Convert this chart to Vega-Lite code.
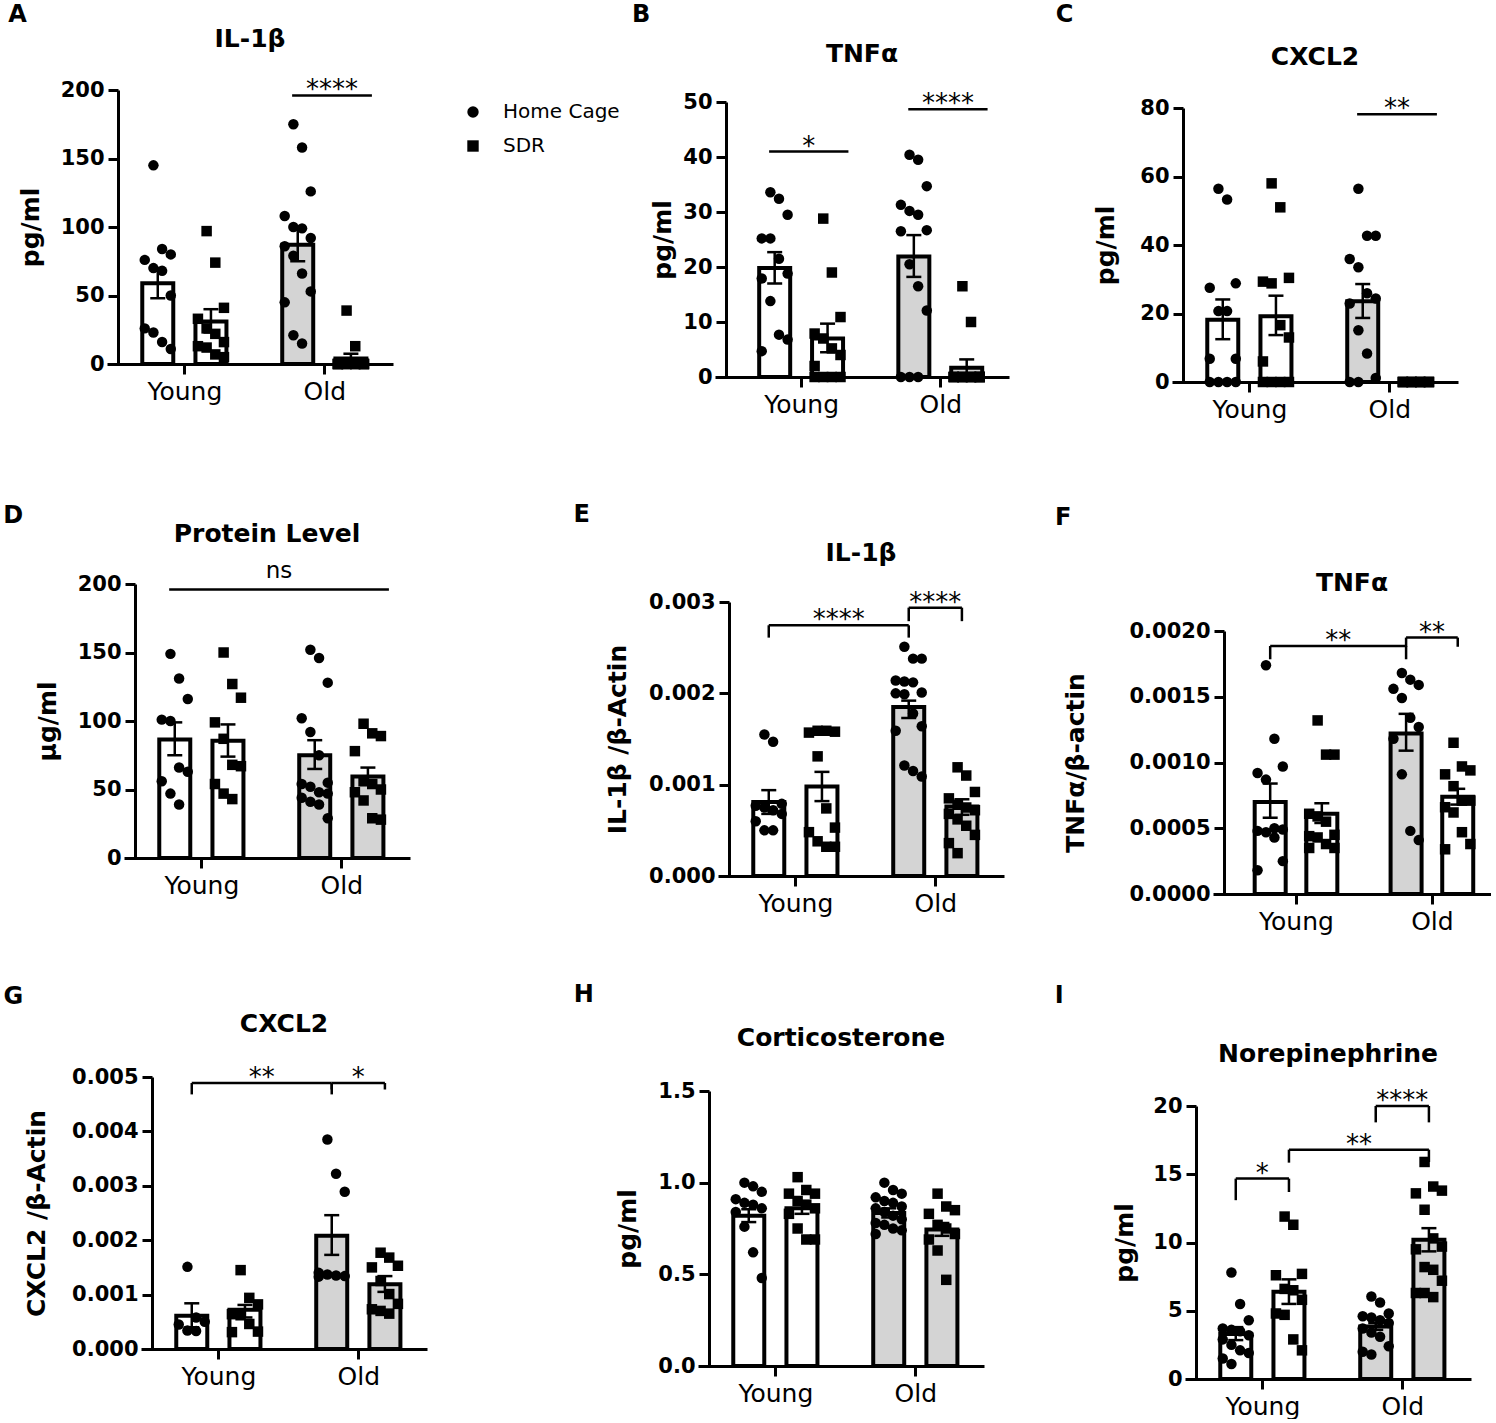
{
"$schema":"https://vega.github.io/schema/vega-lite/v6.json",
"background":"white",
"padding":{"left":2,"top":2,"right":0,"bottom":0},
"data":{"values":[
{"p":"A","k":"bar","a":"Young","t":"HC","mean":59,"lo":48,"hi":70},
{"p":"A","k":"bar","a":"Young","t":"SDR","mean":31,"lo":23,"hi":40},
{"p":"A","k":"bar","a":"Old","t":"HC","mean":87,"lo":75,"hi":100},
{"p":"A","k":"bar","a":"Old","t":"SDR","mean":4,"lo":1,"hi":7.5},
{"p":"B","k":"bar","a":"Young","t":"HC","mean":19.8,"lo":17,"hi":22.7},
{"p":"B","k":"bar","a":"Young","t":"SDR","mean":7,"lo":4.5,"hi":9.7},
{"p":"B","k":"bar","a":"Old","t":"HC","mean":21.9,"lo":18.2,"hi":25.8},
{"p":"B","k":"bar","a":"Old","t":"SDR","mean":1.7,"lo":0.2,"hi":3.2},
{"p":"C","k":"bar","a":"Young","t":"HC","mean":18.2,"lo":12.5,"hi":24.1},
{"p":"C","k":"bar","a":"Young","t":"SDR","mean":19.2,"lo":13.7,"hi":25.2},
{"p":"C","k":"bar","a":"Old","t":"HC","mean":23.6,"lo":18.7,"hi":28.6},
{"p":"C","k":"bar","a":"Old","t":"SDR","mean":0,"lo":0,"hi":0},
{"p":"D","k":"bar","a":"Young","t":"HC","mean":86.5,"lo":75,"hi":99},
{"p":"D","k":"bar","a":"Young","t":"SDR","mean":85.5,"lo":74,"hi":97.5},
{"p":"D","k":"bar","a":"Old","t":"HC","mean":75,"lo":65,"hi":86},
{"p":"D","k":"bar","a":"Old","t":"SDR","mean":59.5,"lo":53.5,"hi":66},
{"p":"E","k":"bar","a":"Young","t":"HC","mean":0.00081,"lo":0.00068,"hi":0.00094},
{"p":"E","k":"bar","a":"Young","t":"SDR","mean":0.00098,"lo":0.00082,"hi":0.00114},
{"p":"E","k":"bar","a":"Old","t":"HC","mean":0.00185,"lo":0.00173,"hi":0.00192},
{"p":"E","k":"bar","a":"Old","t":"SDR","mean":0.00076,"lo":0.00067,"hi":0.00084},
{"p":"F","k":"bar","a":"Young","t":"HC","mean":0.0007,"lo":0.00058,"hi":0.00084},
{"p":"F","k":"bar","a":"Young","t":"SDR","mean":0.00061,"lo":0.00054,"hi":0.00069},
{"p":"F","k":"bar","a":"Old","t":"HC","mean":0.00122,"lo":0.00109,"hi":0.00137},
{"p":"F","k":"bar","a":"Old","t":"SDR","mean":0.00074,"lo":0.00068,"hi":0.0008},
{"p":"G","k":"bar","a":"Young","t":"HC","mean":0.00061,"lo":0.0004,"hi":0.00084},
{"p":"G","k":"bar","a":"Young","t":"SDR","mean":0.00072,"lo":0.00058,"hi":0.00081},
{"p":"G","k":"bar","a":"Old","t":"HC","mean":0.00208,"lo":0.00173,"hi":0.00246},
{"p":"G","k":"bar","a":"Old","t":"SDR","mean":0.00119,"lo":0.00105,"hi":0.00134},
{"p":"H","k":"bar","a":"Young","t":"HC","mean":0.82,"lo":0.785,"hi":0.855},
{"p":"H","k":"bar","a":"Young","t":"SDR","mean":0.86,"lo":0.83,"hi":0.89},
{"p":"H","k":"bar","a":"Old","t":"HC","mean":0.835,"lo":0.81,"hi":0.86},
{"p":"H","k":"bar","a":"Old","t":"SDR","mean":0.745,"lo":0.71,"hi":0.78},
{"p":"I","k":"bar","a":"Young","t":"HC","mean":3.3,"lo":2.85,"hi":3.8},
{"p":"I","k":"bar","a":"Young","t":"SDR","mean":6.4,"lo":5.5,"hi":7.3},
{"p":"I","k":"bar","a":"Old","t":"HC","mean":3.85,"lo":3.6,"hi":4.1},
{"p":"I","k":"bar","a":"Old","t":"SDR","mean":10.2,"lo":9.35,"hi":11.05},

{"p":"A","k":"sig","a1":"Old","t1":"HC","a2":"Old","t2":"SDR","y":196,"label":"****"},
{"p":"B","k":"sig","a1":"Young","t1":"HC","a2":"Young","t2":"SDR","y":41,"label":"*"},
{"p":"B","k":"sig","a1":"Old","t1":"HC","a2":"Old","t2":"SDR","y":48.7,"label":"****"},
{"p":"C","k":"sig","a1":"Old","t1":"HC","a2":"Old","t2":"SDR","y":78.2,"label":"**"},
{"p":"D","k":"sig","a1":"Young","t1":"HC","a2":"Old","t2":"SDR","y":196,"label":"ns"},
{"p":"E","k":"sig","a1":"Young","t1":"HC","a2":"Old","t2":"HC","y":0.002745,"d1":0.00261,"d2":0.00261,"label":"****"},
{"p":"E","k":"sig","a1":"Old","t1":"HC","a2":"Old","t2":"SDR","y":0.002938,"d1":0.00279,"d2":0.00279,"label":"****"},
{"p":"F","k":"sig","a1":"Young","t1":"HC","a2":"Old","t2":"HC","y":0.001886,"d1":0.001785,"d2":0.001785,"label":"**"},
{"p":"F","k":"sig","a1":"Old","t1":"HC","a2":"Old","t2":"SDR","y":0.00195,"d1":0.00188,"d2":0.00188,"label":"**"},
{"p":"G","k":"sig","a1":"Young","t1":"HC","a2":"Old","t2":"HC","y":0.00489,"d1":0.00468,"d2":0.00468,"label":"**"},
{"p":"G","k":"sig","a1":"Old","t1":"HC","a2":"Old","t2":"SDR","y":0.00489,"d1":0.00477,"d2":0.00477,"label":"*"},
{"p":"I","k":"sig","a1":"Young","t1":"HC","a2":"Young","t2":"SDR","y":14.68,"d1":13.1,"d2":13.7,"label":"*"},
{"p":"I","k":"sig","a1":"Young","t1":"SDR","a2":"Old","t2":"SDR","y":16.8,"d1":15.85,"d2":15.9,"label":"**"},
{"p":"I","k":"sig","a1":"Old","t1":"HC","a2":"Old","t2":"SDR","y":20,"d1":18.8,"d2":18.8,"label":"****"},

{"p":"A","k":"pt","a":"Young","t":"HC","v":145},{"p":"A","k":"pt","a":"Young","t":"HC","v":84},{"p":"A","k":"pt","a":"Young","t":"HC","v":80},{"p":"A","k":"pt","a":"Young","t":"HC","v":76},{"p":"A","k":"pt","a":"Young","t":"HC","v":70},{"p":"A","k":"pt","a":"Young","t":"HC","v":68},{"p":"A","k":"pt","a":"Young","t":"HC","v":50},{"p":"A","k":"pt","a":"Young","t":"HC","v":26},{"p":"A","k":"pt","a":"Young","t":"HC","v":23},{"p":"A","k":"pt","a":"Young","t":"HC","v":16},{"p":"A","k":"pt","a":"Young","t":"HC","v":11},
{"p":"A","k":"pt","a":"Young","t":"SDR","v":97},{"p":"A","k":"pt","a":"Young","t":"SDR","v":74},{"p":"A","k":"pt","a":"Young","t":"SDR","v":41},{"p":"A","k":"pt","a":"Young","t":"SDR","v":33},{"p":"A","k":"pt","a":"Young","t":"SDR","v":26},{"p":"A","k":"pt","a":"Young","t":"SDR","v":22},{"p":"A","k":"pt","a":"Young","t":"SDR","v":16},{"p":"A","k":"pt","a":"Young","t":"SDR","v":13},{"p":"A","k":"pt","a":"Young","t":"SDR","v":12},{"p":"A","k":"pt","a":"Young","t":"SDR","v":7},{"p":"A","k":"pt","a":"Young","t":"SDR","v":5},
{"p":"A","k":"pt","a":"Old","t":"HC","v":175},{"p":"A","k":"pt","a":"Old","t":"HC","v":158},{"p":"A","k":"pt","a":"Old","t":"HC","v":126},{"p":"A","k":"pt","a":"Old","t":"HC","v":108},{"p":"A","k":"pt","a":"Old","t":"HC","v":100},{"p":"A","k":"pt","a":"Old","t":"HC","v":99},{"p":"A","k":"pt","a":"Old","t":"HC","v":92},{"p":"A","k":"pt","a":"Old","t":"HC","v":86},{"p":"A","k":"pt","a":"Old","t":"HC","v":79},{"p":"A","k":"pt","a":"Old","t":"HC","v":66},{"p":"A","k":"pt","a":"Old","t":"HC","v":53},{"p":"A","k":"pt","a":"Old","t":"HC","v":45},{"p":"A","k":"pt","a":"Old","t":"HC","v":21},{"p":"A","k":"pt","a":"Old","t":"HC","v":15},
{"p":"A","k":"pt","a":"Old","t":"SDR","v":39},{"p":"A","k":"pt","a":"Old","t":"SDR","v":13},{"p":"A","k":"pt","a":"Old","t":"SDR","v":0},{"p":"A","k":"pt","a":"Old","t":"SDR","v":0},{"p":"A","k":"pt","a":"Old","t":"SDR","v":0},{"p":"A","k":"pt","a":"Old","t":"SDR","v":0},{"p":"A","k":"pt","a":"Old","t":"SDR","v":0},{"p":"A","k":"pt","a":"Old","t":"SDR","v":0},{"p":"A","k":"pt","a":"Old","t":"SDR","v":0},{"p":"A","k":"pt","a":"Old","t":"SDR","v":0},{"p":"A","k":"pt","a":"Old","t":"SDR","v":0},{"p":"A","k":"pt","a":"Old","t":"SDR","v":0},

{"p":"B","k":"pt","a":"Young","t":"HC","v":33.6},{"p":"B","k":"pt","a":"Young","t":"HC","v":32.4},{"p":"B","k":"pt","a":"Young","t":"HC","v":29.5},{"p":"B","k":"pt","a":"Young","t":"HC","v":25.2},{"p":"B","k":"pt","a":"Young","t":"HC","v":25.2},{"p":"B","k":"pt","a":"Young","t":"HC","v":21.5},{"p":"B","k":"pt","a":"Young","t":"HC","v":18.8},{"p":"B","k":"pt","a":"Young","t":"HC","v":17.9},{"p":"B","k":"pt","a":"Young","t":"HC","v":13.8},{"p":"B","k":"pt","a":"Young","t":"HC","v":7.7},{"p":"B","k":"pt","a":"Young","t":"HC","v":6.8},{"p":"B","k":"pt","a":"Young","t":"HC","v":4.7},
{"p":"B","k":"pt","a":"Young","t":"SDR","v":28.8},{"p":"B","k":"pt","a":"Young","t":"SDR","v":19},{"p":"B","k":"pt","a":"Young","t":"SDR","v":10.9},{"p":"B","k":"pt","a":"Young","t":"SDR","v":7.9},{"p":"B","k":"pt","a":"Young","t":"SDR","v":7},{"p":"B","k":"pt","a":"Young","t":"SDR","v":5.2},{"p":"B","k":"pt","a":"Young","t":"SDR","v":4},{"p":"B","k":"pt","a":"Young","t":"SDR","v":2},{"p":"B","k":"pt","a":"Young","t":"SDR","v":0},{"p":"B","k":"pt","a":"Young","t":"SDR","v":0},{"p":"B","k":"pt","a":"Young","t":"SDR","v":0},{"p":"B","k":"pt","a":"Young","t":"SDR","v":0},
{"p":"B","k":"pt","a":"Old","t":"HC","v":40.4},{"p":"B","k":"pt","a":"Old","t":"HC","v":39.5},{"p":"B","k":"pt","a":"Old","t":"HC","v":34.7},{"p":"B","k":"pt","a":"Old","t":"HC","v":31.3},{"p":"B","k":"pt","a":"Old","t":"HC","v":30.2},{"p":"B","k":"pt","a":"Old","t":"HC","v":29.5},{"p":"B","k":"pt","a":"Old","t":"HC","v":26.7},{"p":"B","k":"pt","a":"Old","t":"HC","v":26.5},{"p":"B","k":"pt","a":"Old","t":"HC","v":20.5},{"p":"B","k":"pt","a":"Old","t":"HC","v":16.5},{"p":"B","k":"pt","a":"Old","t":"HC","v":12.1},{"p":"B","k":"pt","a":"Old","t":"HC","v":0},{"p":"B","k":"pt","a":"Old","t":"HC","v":0},{"p":"B","k":"pt","a":"Old","t":"HC","v":0},
{"p":"B","k":"pt","a":"Old","t":"SDR","v":16.5},{"p":"B","k":"pt","a":"Old","t":"SDR","v":10},{"p":"B","k":"pt","a":"Old","t":"SDR","v":0},{"p":"B","k":"pt","a":"Old","t":"SDR","v":0},{"p":"B","k":"pt","a":"Old","t":"SDR","v":0},{"p":"B","k":"pt","a":"Old","t":"SDR","v":0},{"p":"B","k":"pt","a":"Old","t":"SDR","v":0},{"p":"B","k":"pt","a":"Old","t":"SDR","v":0},{"p":"B","k":"pt","a":"Old","t":"SDR","v":0},{"p":"B","k":"pt","a":"Old","t":"SDR","v":0},{"p":"B","k":"pt","a":"Old","t":"SDR","v":0},{"p":"B","k":"pt","a":"Old","t":"SDR","v":0},{"p":"B","k":"pt","a":"Old","t":"SDR","v":0},{"p":"B","k":"pt","a":"Old","t":"SDR","v":0},{"p":"B","k":"pt","a":"Old","t":"SDR","v":0},

{"p":"C","k":"pt","a":"Young","t":"HC","v":56.4},{"p":"C","k":"pt","a":"Young","t":"HC","v":53.3},{"p":"C","k":"pt","a":"Young","t":"HC","v":28.8},{"p":"C","k":"pt","a":"Young","t":"HC","v":27.5},{"p":"C","k":"pt","a":"Young","t":"HC","v":20.7},{"p":"C","k":"pt","a":"Young","t":"HC","v":20.7},{"p":"C","k":"pt","a":"Young","t":"HC","v":6.8},{"p":"C","k":"pt","a":"Young","t":"HC","v":6.8},{"p":"C","k":"pt","a":"Young","t":"HC","v":0},{"p":"C","k":"pt","a":"Young","t":"HC","v":0},{"p":"C","k":"pt","a":"Young","t":"HC","v":0},{"p":"C","k":"pt","a":"Young","t":"HC","v":0},
{"p":"C","k":"pt","a":"Young","t":"SDR","v":58},{"p":"C","k":"pt","a":"Young","t":"SDR","v":51},{"p":"C","k":"pt","a":"Young","t":"SDR","v":30.4},{"p":"C","k":"pt","a":"Young","t":"SDR","v":29.3},{"p":"C","k":"pt","a":"Young","t":"SDR","v":28.8},{"p":"C","k":"pt","a":"Young","t":"SDR","v":16.6},{"p":"C","k":"pt","a":"Young","t":"SDR","v":13},{"p":"C","k":"pt","a":"Young","t":"SDR","v":6},{"p":"C","k":"pt","a":"Young","t":"SDR","v":0},{"p":"C","k":"pt","a":"Young","t":"SDR","v":0},{"p":"C","k":"pt","a":"Young","t":"SDR","v":0},{"p":"C","k":"pt","a":"Young","t":"SDR","v":0},
{"p":"C","k":"pt","a":"Old","t":"HC","v":56.4},{"p":"C","k":"pt","a":"Old","t":"HC","v":42.7},{"p":"C","k":"pt","a":"Old","t":"HC","v":42.7},{"p":"C","k":"pt","a":"Old","t":"HC","v":35.9},{"p":"C","k":"pt","a":"Old","t":"HC","v":33.5},{"p":"C","k":"pt","a":"Old","t":"HC","v":25.9},{"p":"C","k":"pt","a":"Old","t":"HC","v":24.4},{"p":"C","k":"pt","a":"Old","t":"HC","v":22.9},{"p":"C","k":"pt","a":"Old","t":"HC","v":15.1},{"p":"C","k":"pt","a":"Old","t":"HC","v":8.3},{"p":"C","k":"pt","a":"Old","t":"HC","v":1.2},{"p":"C","k":"pt","a":"Old","t":"HC","v":0},{"p":"C","k":"pt","a":"Old","t":"HC","v":0},
{"p":"C","k":"pt","a":"Old","t":"SDR","v":0},{"p":"C","k":"pt","a":"Old","t":"SDR","v":0},{"p":"C","k":"pt","a":"Old","t":"SDR","v":0},{"p":"C","k":"pt","a":"Old","t":"SDR","v":0},{"p":"C","k":"pt","a":"Old","t":"SDR","v":0},{"p":"C","k":"pt","a":"Old","t":"SDR","v":0},{"p":"C","k":"pt","a":"Old","t":"SDR","v":0},{"p":"C","k":"pt","a":"Old","t":"SDR","v":0},{"p":"C","k":"pt","a":"Old","t":"SDR","v":0},{"p":"C","k":"pt","a":"Old","t":"SDR","v":0},{"p":"C","k":"pt","a":"Old","t":"SDR","v":0},{"p":"C","k":"pt","a":"Old","t":"SDR","v":0},

{"p":"D","k":"pt","a":"Young","t":"HC","v":149},{"p":"D","k":"pt","a":"Young","t":"HC","v":131},{"p":"D","k":"pt","a":"Young","t":"HC","v":116},{"p":"D","k":"pt","a":"Young","t":"HC","v":101},{"p":"D","k":"pt","a":"Young","t":"HC","v":100},{"p":"D","k":"pt","a":"Young","t":"HC","v":66},{"p":"D","k":"pt","a":"Young","t":"HC","v":63},{"p":"D","k":"pt","a":"Young","t":"HC","v":56},{"p":"D","k":"pt","a":"Young","t":"HC","v":47},{"p":"D","k":"pt","a":"Young","t":"HC","v":39},
{"p":"D","k":"pt","a":"Young","t":"SDR","v":150},{"p":"D","k":"pt","a":"Young","t":"SDR","v":127},{"p":"D","k":"pt","a":"Young","t":"SDR","v":117},{"p":"D","k":"pt","a":"Young","t":"SDR","v":99},{"p":"D","k":"pt","a":"Young","t":"SDR","v":87},{"p":"D","k":"pt","a":"Young","t":"SDR","v":68},{"p":"D","k":"pt","a":"Young","t":"SDR","v":67},{"p":"D","k":"pt","a":"Young","t":"SDR","v":54},{"p":"D","k":"pt","a":"Young","t":"SDR","v":47},{"p":"D","k":"pt","a":"Young","t":"SDR","v":43},
{"p":"D","k":"pt","a":"Old","t":"HC","v":152},{"p":"D","k":"pt","a":"Old","t":"HC","v":146},{"p":"D","k":"pt","a":"Old","t":"HC","v":128},{"p":"D","k":"pt","a":"Old","t":"HC","v":102},{"p":"D","k":"pt","a":"Old","t":"HC","v":92},{"p":"D","k":"pt","a":"Old","t":"HC","v":75},{"p":"D","k":"pt","a":"Old","t":"HC","v":55},{"p":"D","k":"pt","a":"Old","t":"HC","v":54},{"p":"D","k":"pt","a":"Old","t":"HC","v":52},{"p":"D","k":"pt","a":"Old","t":"HC","v":48},{"p":"D","k":"pt","a":"Old","t":"HC","v":47},{"p":"D","k":"pt","a":"Old","t":"HC","v":44},{"p":"D","k":"pt","a":"Old","t":"HC","v":41},{"p":"D","k":"pt","a":"Old","t":"HC","v":39},{"p":"D","k":"pt","a":"Old","t":"HC","v":29},
{"p":"D","k":"pt","a":"Old","t":"SDR","v":98},{"p":"D","k":"pt","a":"Old","t":"SDR","v":91},{"p":"D","k":"pt","a":"Old","t":"SDR","v":89},{"p":"D","k":"pt","a":"Old","t":"SDR","v":78},{"p":"D","k":"pt","a":"Old","t":"SDR","v":56},{"p":"D","k":"pt","a":"Old","t":"SDR","v":54},{"p":"D","k":"pt","a":"Old","t":"SDR","v":50},{"p":"D","k":"pt","a":"Old","t":"SDR","v":48},{"p":"D","k":"pt","a":"Old","t":"SDR","v":42},{"p":"D","k":"pt","a":"Old","t":"SDR","v":29},{"p":"D","k":"pt","a":"Old","t":"SDR","v":28},

{"p":"E","k":"pt","a":"Young","t":"HC","v":0.00155},{"p":"E","k":"pt","a":"Young","t":"HC","v":0.00147},{"p":"E","k":"pt","a":"Young","t":"HC","v":0.00079},{"p":"E","k":"pt","a":"Young","t":"HC","v":0.00077},{"p":"E","k":"pt","a":"Young","t":"HC","v":0.00075},{"p":"E","k":"pt","a":"Young","t":"HC","v":0.00072},{"p":"E","k":"pt","a":"Young","t":"HC","v":0.00068},{"p":"E","k":"pt","a":"Young","t":"HC","v":0.0006},{"p":"E","k":"pt","a":"Young","t":"HC","v":0.0005},{"p":"E","k":"pt","a":"Young","t":"HC","v":0.0005},
{"p":"E","k":"pt","a":"Young","t":"SDR","v":0.00159},{"p":"E","k":"pt","a":"Young","t":"SDR","v":0.00159},{"p":"E","k":"pt","a":"Young","t":"SDR","v":0.00158},{"p":"E","k":"pt","a":"Young","t":"SDR","v":0.00157},{"p":"E","k":"pt","a":"Young","t":"SDR","v":0.00131},{"p":"E","k":"pt","a":"Young","t":"SDR","v":0.00074},{"p":"E","k":"pt","a":"Young","t":"SDR","v":0.00053},{"p":"E","k":"pt","a":"Young","t":"SDR","v":0.00048},{"p":"E","k":"pt","a":"Young","t":"SDR","v":0.00038},{"p":"E","k":"pt","a":"Young","t":"SDR","v":0.00032},{"p":"E","k":"pt","a":"Young","t":"SDR","v":0.00032},
{"p":"E","k":"pt","a":"Old","t":"HC","v":0.00251},{"p":"E","k":"pt","a":"Old","t":"HC","v":0.00238},{"p":"E","k":"pt","a":"Old","t":"HC","v":0.00238},{"p":"E","k":"pt","a":"Old","t":"HC","v":0.00214},{"p":"E","k":"pt","a":"Old","t":"HC","v":0.00213},{"p":"E","k":"pt","a":"Old","t":"HC","v":0.00212},{"p":"E","k":"pt","a":"Old","t":"HC","v":0.00201},{"p":"E","k":"pt","a":"Old","t":"HC","v":0.002},{"p":"E","k":"pt","a":"Old","t":"HC","v":0.00199},{"p":"E","k":"pt","a":"Old","t":"HC","v":0.00178},{"p":"E","k":"pt","a":"Old","t":"HC","v":0.00164},{"p":"E","k":"pt","a":"Old","t":"HC","v":0.00159},{"p":"E","k":"pt","a":"Old","t":"HC","v":0.00121},{"p":"E","k":"pt","a":"Old","t":"HC","v":0.00115},{"p":"E","k":"pt","a":"Old","t":"HC","v":0.00109},
{"p":"E","k":"pt","a":"Old","t":"SDR","v":0.00119},{"p":"E","k":"pt","a":"Old","t":"SDR","v":0.0011},{"p":"E","k":"pt","a":"Old","t":"SDR","v":0.00092},{"p":"E","k":"pt","a":"Old","t":"SDR","v":0.00085},{"p":"E","k":"pt","a":"Old","t":"SDR","v":0.00078},{"p":"E","k":"pt","a":"Old","t":"SDR","v":0.00075},{"p":"E","k":"pt","a":"Old","t":"SDR","v":0.00072},{"p":"E","k":"pt","a":"Old","t":"SDR","v":0.00068},{"p":"E","k":"pt","a":"Old","t":"SDR","v":0.00062},{"p":"E","k":"pt","a":"Old","t":"SDR","v":0.00055},{"p":"E","k":"pt","a":"Old","t":"SDR","v":0.00045},{"p":"E","k":"pt","a":"Old","t":"SDR","v":0.00036},{"p":"E","k":"pt","a":"Old","t":"SDR","v":0.00025},

{"p":"F","k":"pt","a":"Young","t":"HC","v":0.00174},{"p":"F","k":"pt","a":"Young","t":"HC","v":0.00118},{"p":"F","k":"pt","a":"Young","t":"HC","v":0.00097},{"p":"F","k":"pt","a":"Young","t":"HC","v":0.00092},{"p":"F","k":"pt","a":"Young","t":"HC","v":0.00087},{"p":"F","k":"pt","a":"Young","t":"HC","v":0.0005},{"p":"F","k":"pt","a":"Young","t":"HC","v":0.00049},{"p":"F","k":"pt","a":"Young","t":"HC","v":0.00048},{"p":"F","k":"pt","a":"Young","t":"HC","v":0.00047},{"p":"F","k":"pt","a":"Young","t":"HC","v":0.00043},{"p":"F","k":"pt","a":"Young","t":"HC","v":0.00025},{"p":"F","k":"pt","a":"Young","t":"HC","v":0.00018},
{"p":"F","k":"pt","a":"Young","t":"SDR","v":0.00132},{"p":"F","k":"pt","a":"Young","t":"SDR","v":0.00106},{"p":"F","k":"pt","a":"Young","t":"SDR","v":0.00106},{"p":"F","k":"pt","a":"Young","t":"SDR","v":0.00061},{"p":"F","k":"pt","a":"Young","t":"SDR","v":0.00059},{"p":"F","k":"pt","a":"Young","t":"SDR","v":0.00055},{"p":"F","k":"pt","a":"Young","t":"SDR","v":0.00045},{"p":"F","k":"pt","a":"Young","t":"SDR","v":0.00044},{"p":"F","k":"pt","a":"Young","t":"SDR","v":0.00043},{"p":"F","k":"pt","a":"Young","t":"SDR","v":0.00038},{"p":"F","k":"pt","a":"Young","t":"SDR","v":0.00035},{"p":"F","k":"pt","a":"Young","t":"SDR","v":0.00035},
{"p":"F","k":"pt","a":"Old","t":"HC","v":0.00168},{"p":"F","k":"pt","a":"Old","t":"HC","v":0.00163},{"p":"F","k":"pt","a":"Old","t":"HC","v":0.00159},{"p":"F","k":"pt","a":"Old","t":"HC","v":0.00156},{"p":"F","k":"pt","a":"Old","t":"HC","v":0.00149},{"p":"F","k":"pt","a":"Old","t":"HC","v":0.00134},{"p":"F","k":"pt","a":"Old","t":"HC","v":0.00127},{"p":"F","k":"pt","a":"Old","t":"HC","v":0.00118},{"p":"F","k":"pt","a":"Old","t":"HC","v":0.00091},{"p":"F","k":"pt","a":"Old","t":"HC","v":0.00048},{"p":"F","k":"pt","a":"Old","t":"HC","v":0.00041},
{"p":"F","k":"pt","a":"Old","t":"SDR","v":0.00115},{"p":"F","k":"pt","a":"Old","t":"SDR","v":0.00097},{"p":"F","k":"pt","a":"Old","t":"SDR","v":0.00094},{"p":"F","k":"pt","a":"Old","t":"SDR","v":0.00091},{"p":"F","k":"pt","a":"Old","t":"SDR","v":0.00082},{"p":"F","k":"pt","a":"Old","t":"SDR","v":0.00071},{"p":"F","k":"pt","a":"Old","t":"SDR","v":0.00071},{"p":"F","k":"pt","a":"Old","t":"SDR","v":0.00066},{"p":"F","k":"pt","a":"Old","t":"SDR","v":0.00062},{"p":"F","k":"pt","a":"Old","t":"SDR","v":0.00047},{"p":"F","k":"pt","a":"Old","t":"SDR","v":0.00038},{"p":"F","k":"pt","a":"Old","t":"SDR","v":0.00034},

{"p":"G","k":"pt","a":"Young","t":"HC","v":0.00151},{"p":"G","k":"pt","a":"Young","t":"HC","v":0.00058},{"p":"G","k":"pt","a":"Young","t":"HC","v":0.0005},{"p":"G","k":"pt","a":"Young","t":"HC","v":0.00045},{"p":"G","k":"pt","a":"Young","t":"HC","v":0.00034},{"p":"G","k":"pt","a":"Young","t":"HC","v":0.00033},
{"p":"G","k":"pt","a":"Young","t":"SDR","v":0.00145},{"p":"G","k":"pt","a":"Young","t":"SDR","v":0.00094},{"p":"G","k":"pt","a":"Young","t":"SDR","v":0.00082},{"p":"G","k":"pt","a":"Young","t":"SDR","v":0.00064},{"p":"G","k":"pt","a":"Young","t":"SDR","v":0.00062},{"p":"G","k":"pt","a":"Young","t":"SDR","v":0.00046},{"p":"G","k":"pt","a":"Young","t":"SDR","v":0.00032},{"p":"G","k":"pt","a":"Young","t":"SDR","v":0.00031},
{"p":"G","k":"pt","a":"Old","t":"HC","v":0.00385},{"p":"G","k":"pt","a":"Old","t":"HC","v":0.00322},{"p":"G","k":"pt","a":"Old","t":"HC","v":0.00289},{"p":"G","k":"pt","a":"Old","t":"HC","v":0.0014},{"p":"G","k":"pt","a":"Old","t":"HC","v":0.00137},{"p":"G","k":"pt","a":"Old","t":"HC","v":0.00135},{"p":"G","k":"pt","a":"Old","t":"HC","v":0.00134},{"p":"G","k":"pt","a":"Old","t":"HC","v":0.00133},
{"p":"G","k":"pt","a":"Old","t":"SDR","v":0.00177},{"p":"G","k":"pt","a":"Old","t":"SDR","v":0.00168},{"p":"G","k":"pt","a":"Old","t":"SDR","v":0.00153},{"p":"G","k":"pt","a":"Old","t":"SDR","v":0.0015},{"p":"G","k":"pt","a":"Old","t":"SDR","v":0.00125},{"p":"G","k":"pt","a":"Old","t":"SDR","v":0.00101},{"p":"G","k":"pt","a":"Old","t":"SDR","v":0.00083},{"p":"G","k":"pt","a":"Old","t":"SDR","v":0.00073},{"p":"G","k":"pt","a":"Old","t":"SDR","v":0.0007},{"p":"G","k":"pt","a":"Old","t":"SDR","v":0.00065},

{"p":"H","k":"pt","a":"Young","t":"HC","v":1.0},{"p":"H","k":"pt","a":"Young","t":"HC","v":0.98},{"p":"H","k":"pt","a":"Young","t":"HC","v":0.95},{"p":"H","k":"pt","a":"Young","t":"HC","v":0.91},{"p":"H","k":"pt","a":"Young","t":"HC","v":0.89},{"p":"H","k":"pt","a":"Young","t":"HC","v":0.88},{"p":"H","k":"pt","a":"Young","t":"HC","v":0.86},{"p":"H","k":"pt","a":"Young","t":"HC","v":0.84},{"p":"H","k":"pt","a":"Young","t":"HC","v":0.76},{"p":"H","k":"pt","a":"Young","t":"HC","v":0.62},{"p":"H","k":"pt","a":"Young","t":"HC","v":0.48},
{"p":"H","k":"pt","a":"Young","t":"SDR","v":1.03},{"p":"H","k":"pt","a":"Young","t":"SDR","v":0.96},{"p":"H","k":"pt","a":"Young","t":"SDR","v":0.94},{"p":"H","k":"pt","a":"Young","t":"SDR","v":0.94},{"p":"H","k":"pt","a":"Young","t":"SDR","v":0.9},{"p":"H","k":"pt","a":"Young","t":"SDR","v":0.88},{"p":"H","k":"pt","a":"Young","t":"SDR","v":0.86},{"p":"H","k":"pt","a":"Young","t":"SDR","v":0.83},{"p":"H","k":"pt","a":"Young","t":"SDR","v":0.75},{"p":"H","k":"pt","a":"Young","t":"SDR","v":0.69},{"p":"H","k":"pt","a":"Young","t":"SDR","v":0.69},
{"p":"H","k":"pt","a":"Old","t":"HC","v":1.0},{"p":"H","k":"pt","a":"Old","t":"HC","v":0.96},{"p":"H","k":"pt","a":"Old","t":"HC","v":0.94},{"p":"H","k":"pt","a":"Old","t":"HC","v":0.92},{"p":"H","k":"pt","a":"Old","t":"HC","v":0.9},{"p":"H","k":"pt","a":"Old","t":"HC","v":0.89},{"p":"H","k":"pt","a":"Old","t":"HC","v":0.87},{"p":"H","k":"pt","a":"Old","t":"HC","v":0.86},{"p":"H","k":"pt","a":"Old","t":"HC","v":0.84},{"p":"H","k":"pt","a":"Old","t":"HC","v":0.82},{"p":"H","k":"pt","a":"Old","t":"HC","v":0.8},{"p":"H","k":"pt","a":"Old","t":"HC","v":0.78},{"p":"H","k":"pt","a":"Old","t":"HC","v":0.77},{"p":"H","k":"pt","a":"Old","t":"HC","v":0.75},{"p":"H","k":"pt","a":"Old","t":"HC","v":0.74},{"p":"H","k":"pt","a":"Old","t":"HC","v":0.72},
{"p":"H","k":"pt","a":"Old","t":"SDR","v":0.94},{"p":"H","k":"pt","a":"Old","t":"SDR","v":0.87},{"p":"H","k":"pt","a":"Old","t":"SDR","v":0.85},{"p":"H","k":"pt","a":"Old","t":"SDR","v":0.83},{"p":"H","k":"pt","a":"Old","t":"SDR","v":0.77},{"p":"H","k":"pt","a":"Old","t":"SDR","v":0.75},{"p":"H","k":"pt","a":"Old","t":"SDR","v":0.72},{"p":"H","k":"pt","a":"Old","t":"SDR","v":0.69},{"p":"H","k":"pt","a":"Old","t":"SDR","v":0.63},{"p":"H","k":"pt","a":"Old","t":"SDR","v":0.47},

{"p":"I","k":"pt","a":"Young","t":"HC","v":7.8},{"p":"I","k":"pt","a":"Young","t":"HC","v":5.5},{"p":"I","k":"pt","a":"Young","t":"HC","v":4.3},{"p":"I","k":"pt","a":"Young","t":"HC","v":3.7},{"p":"I","k":"pt","a":"Young","t":"HC","v":3.6},{"p":"I","k":"pt","a":"Young","t":"HC","v":3.5},{"p":"I","k":"pt","a":"Young","t":"HC","v":3.2},{"p":"I","k":"pt","a":"Young","t":"HC","v":2.9},{"p":"I","k":"pt","a":"Young","t":"HC","v":2.5},{"p":"I","k":"pt","a":"Young","t":"HC","v":2.1},{"p":"I","k":"pt","a":"Young","t":"HC","v":1.9},{"p":"I","k":"pt","a":"Young","t":"HC","v":1.5},{"p":"I","k":"pt","a":"Young","t":"HC","v":1.1},
{"p":"I","k":"pt","a":"Young","t":"SDR","v":11.9},{"p":"I","k":"pt","a":"Young","t":"SDR","v":11.3},{"p":"I","k":"pt","a":"Young","t":"SDR","v":7.7},{"p":"I","k":"pt","a":"Young","t":"SDR","v":7.6},{"p":"I","k":"pt","a":"Young","t":"SDR","v":6.6},{"p":"I","k":"pt","a":"Young","t":"SDR","v":6.5},{"p":"I","k":"pt","a":"Young","t":"SDR","v":5.8},{"p":"I","k":"pt","a":"Young","t":"SDR","v":4.8},{"p":"I","k":"pt","a":"Young","t":"SDR","v":4.7},{"p":"I","k":"pt","a":"Young","t":"SDR","v":2.9},{"p":"I","k":"pt","a":"Young","t":"SDR","v":2.1},
{"p":"I","k":"pt","a":"Old","t":"HC","v":6.05},{"p":"I","k":"pt","a":"Old","t":"HC","v":5.6},{"p":"I","k":"pt","a":"Old","t":"HC","v":4.8},{"p":"I","k":"pt","a":"Old","t":"HC","v":4.6},{"p":"I","k":"pt","a":"Old","t":"HC","v":4.5},{"p":"I","k":"pt","a":"Old","t":"HC","v":4.3},{"p":"I","k":"pt","a":"Old","t":"HC","v":4.1},{"p":"I","k":"pt","a":"Old","t":"HC","v":3.7},{"p":"I","k":"pt","a":"Old","t":"HC","v":3.4},{"p":"I","k":"pt","a":"Old","t":"HC","v":3.1},{"p":"I","k":"pt","a":"Old","t":"HC","v":2.4},{"p":"I","k":"pt","a":"Old","t":"HC","v":2.0},{"p":"I","k":"pt","a":"Old","t":"HC","v":1.8},
{"p":"I","k":"pt","a":"Old","t":"SDR","v":15.9},{"p":"I","k":"pt","a":"Old","t":"SDR","v":14.1},{"p":"I","k":"pt","a":"Old","t":"SDR","v":13.8},{"p":"I","k":"pt","a":"Old","t":"SDR","v":13.6},{"p":"I","k":"pt","a":"Old","t":"SDR","v":12.4},{"p":"I","k":"pt","a":"Old","t":"SDR","v":10.3},{"p":"I","k":"pt","a":"Old","t":"SDR","v":9.7},{"p":"I","k":"pt","a":"Old","t":"SDR","v":9.5},{"p":"I","k":"pt","a":"Old","t":"SDR","v":8.2},{"p":"I","k":"pt","a":"Old","t":"SDR","v":8.0},{"p":"I","k":"pt","a":"Old","t":"SDR","v":7.2},{"p":"I","k":"pt","a":"Old","t":"SDR","v":6.3},{"p":"I","k":"pt","a":"Old","t":"SDR","v":6.3},{"p":"I","k":"pt","a":"Old","t":"SDR","v":6.0}
]},
"transform":[
{"calculate":"(datum.a=='Old'?2:1)+(datum.t=='SDR'?0.19:-0.19)","as":"xp"},
{"window":[{"op":"row_number","as":"rn"}],"groupby":["p","k","a","t"],"sort":[{"field":"v","order":"descending"}]},
{"calculate":"datum.xp+((datum.rn%4)-1.5)*0.062","as":"xj"},
{"calculate":"(datum.a1=='Old'?2:1)+(datum.t1=='SDR'?0.19:-0.19)-(isValid(datum.d1)?0:0.04)","as":"x1"},
{"calculate":"(datum.a2=='Old'?2:1)+(datum.t2=='SDR'?0.19:-0.19)+(isValid(datum.d1)?0:0.15)","as":"x2"},
{"calculate":"(datum.x1+datum.x2)/2","as":"xm"}
],
"spacing":35,
"hconcat":[
{"spacing":0,"vconcat":[
 {"width":1,"height":1,"transform":[{"filter":"false"}],"mark":{"type":"point","opacity":0},"encoding":{}},
 {"spacing":0,"hconcat":[
  {"width":6,"height":1,"transform":[{"filter":"false"}],"mark":{"type":"point","opacity":0},"encoding":{}},
  {"title":{"text":"A","anchor":"start","frame":"bounds","fontSize":24,"fontWeight":"bold","dx":-10,"offset":0},
   "vconcat":[{"title":{"text":"IL-1β","frame":"group","fontSize":25,"fontWeight":"bold","offset":25},
   "width":286,"height":274,"transform":[{"filter":"datum.p=='A'"}],
   "layer":[
   {"transform":[{"filter":"datum.k=='bar'"}],"mark":{"type":"bar","width":31,"stroke":"black","strokeWidth":4},
    "encoding":{"x":{"field":"xp","type":"quantitative","title":null,"scale":{"domain":[0.483,2.455],"nice":false,"zero":false},"axis":{"values":[1,2],"labelExpr":"datum.value==1?'Young':'Old'","labelFontSize":25,"labelPadding":5,"labelFlush":false}},
    "y":{"field":"mean","type":"quantitative","scale":{"domain":[0,200],"nice":false},"axis":{"title":"pg/ml","titlePadding":17,"values":[0,50,100,150,200]}},
    "fill":{"condition":{"test":"datum.a=='Young' || (datum.p=='F' && datum.t=='SDR')","value":"white"},"value":"#d4d4d4"}}},
   {"transform":[{"filter":"datum.k=='pt'"}],"mark":{"type":"point","filled":true,"color":"black","size":110,"opacity":1},
    "encoding":{"x":{"field":"xj","type":"quantitative"},"y":{"field":"v","type":"quantitative"},"shape":{"condition":{"test":"datum.t=='SDR'","value":"square"},"value":"circle"}}},
   {"transform":[{"filter":"datum.k=='bar'"}],"mark":{"type":"rule","strokeWidth":2.5,"color":"black"},
    "encoding":{"x":{"field":"xp","type":"quantitative"},"y":{"field":"lo","type":"quantitative"},"y2":{"field":"hi"}}},
   {"transform":[{"filter":"datum.k=='bar'"},{"fold":["lo","hi"],"as":["cap","cv"]}],"mark":{"type":"point","shape":"M-1,0L1,0","size":225,"filled":false,"color":"black","strokeWidth":2.5,"opacity":1},
    "encoding":{"x":{"field":"xp","type":"quantitative"},"y":{"field":"cv","type":"quantitative"}}},
   {"transform":[{"filter":"datum.k=='sig'"}],"mark":{"type":"rule","strokeWidth":2.5,"color":"black"},
    "encoding":{"x":{"field":"x1","type":"quantitative"},"x2":{"field":"x2"},"y":{"field":"y","type":"quantitative"}}},
   {"transform":[{"filter":"datum.k=='sig'"}],"mark":{"type":"text","fontSize":26,"baseline":"alphabetic","dy":3,"color":"black"},
    "encoding":{"x":{"field":"xm","type":"quantitative"},"y":{"field":"y","type":"quantitative"},"text":{"field":"label"}}}
   ]}]}
 ]},
 {"width":1,"height":100,"transform":[{"filter":"false"}],"mark":{"type":"point","opacity":0},"encoding":{}},
 {"spacing":0,"hconcat":[
  {"width":1,"height":1,"transform":[{"filter":"false"}],"mark":{"type":"point","opacity":0},"encoding":{}},
  {"title":{"text":"D","anchor":"start","frame":"bounds","fontSize":24,"fontWeight":"bold","dx":-32,"offset":-6},
   "vconcat":[{"title":{"text":"Protein Level","frame":"group","fontSize":25,"fontWeight":"bold","offset":13},
   "width":286,"height":274,"transform":[{"filter":"datum.p=='D'"}],
   "layer":[
   {"transform":[{"filter":"datum.k=='bar'"}],"mark":{"type":"bar","width":31,"stroke":"black","strokeWidth":4},
    "encoding":{"x":{"field":"xp","type":"quantitative","title":null,"scale":{"domain":[0.483,2.455],"nice":false,"zero":false},"axis":{"values":[1,2],"labelExpr":"datum.value==1?'Young':'Old'","labelFontSize":25,"labelPadding":5,"labelFlush":false}},
    "y":{"field":"mean","type":"quantitative","scale":{"domain":[0,200],"nice":false},"axis":{"title":"µg/ml","titlePadding":17,"values":[0,50,100,150,200]}},
    "fill":{"condition":{"test":"datum.a=='Young' || (datum.p=='F' && datum.t=='SDR')","value":"white"},"value":"#d4d4d4"}}},
   {"transform":[{"filter":"datum.k=='pt'"}],"mark":{"type":"point","filled":true,"color":"black","size":110,"opacity":1},
    "encoding":{"x":{"field":"xj","type":"quantitative"},"y":{"field":"v","type":"quantitative"},"shape":{"condition":{"test":"datum.t=='SDR'","value":"square"},"value":"circle"}}},
   {"transform":[{"filter":"datum.k=='bar'"}],"mark":{"type":"rule","strokeWidth":2.5,"color":"black"},
    "encoding":{"x":{"field":"xp","type":"quantitative"},"y":{"field":"lo","type":"quantitative"},"y2":{"field":"hi"}}},
   {"transform":[{"filter":"datum.k=='bar'"},{"fold":["lo","hi"],"as":["cap","cv"]}],"mark":{"type":"point","shape":"M-1,0L1,0","size":225,"filled":false,"color":"black","strokeWidth":2.5,"opacity":1},
    "encoding":{"x":{"field":"xp","type":"quantitative"},"y":{"field":"cv","type":"quantitative"}}},
   {"transform":[{"filter":"datum.k=='sig'"}],"mark":{"type":"rule","strokeWidth":2.5,"color":"black"},
    "encoding":{"x":{"field":"x1","type":"quantitative"},"x2":{"field":"x2"},"y":{"field":"y","type":"quantitative"}}},
   {"transform":[{"filter":"datum.k=='sig'"}],"mark":{"type":"text","fontSize":23,"baseline":"alphabetic","dy":-11,"color":"black"},
    "encoding":{"x":{"field":"xm","type":"quantitative"},"y":{"field":"y","type":"quantitative"},"text":{"field":"label"}}}
   ]}]}
 ]},
 {"width":1,"height":86,"transform":[{"filter":"false"}],"mark":{"type":"point","opacity":0},"encoding":{}},
 {"spacing":0,"hconcat":[
  {"width":1,"height":1,"transform":[{"filter":"false"}],"mark":{"type":"point","opacity":0},"encoding":{}},
  {"title":{"text":"G","anchor":"start","frame":"bounds","fontSize":24,"fontWeight":"bold","dx":-21,"offset":3},
   "vconcat":[{"title":{"text":"CXCL2","frame":"group","fontSize":25,"fontWeight":"bold","offset":28},
   "width":286,"height":272,"transform":[{"filter":"datum.p=='G'"}],
   "layer":[
   {"transform":[{"filter":"datum.k=='bar'"}],"mark":{"type":"bar","width":31,"stroke":"black","strokeWidth":4},
    "encoding":{"x":{"field":"xp","type":"quantitative","title":null,"scale":{"domain":[0.483,2.455],"nice":false,"zero":false},"axis":{"values":[1,2],"labelExpr":"datum.value==1?'Young':'Old'","labelFontSize":25,"labelPadding":5,"labelFlush":false}},
    "y":{"field":"mean","type":"quantitative","scale":{"domain":[0,0.005],"nice":false},"axis":{"title":"CXCL2 /β-Actin","titlePadding":22,"values":[0,0.001,0.002,0.003,0.004,0.005],"format":".3f"}},
    "fill":{"condition":{"test":"datum.a=='Young' || (datum.p=='F' && datum.t=='SDR')","value":"white"},"value":"#d4d4d4"}}},
   {"transform":[{"filter":"datum.k=='pt'"}],"mark":{"type":"point","filled":true,"color":"black","size":110,"opacity":1},
    "encoding":{"x":{"field":"xj","type":"quantitative"},"y":{"field":"v","type":"quantitative"},"shape":{"condition":{"test":"datum.t=='SDR'","value":"square"},"value":"circle"}}},
   {"transform":[{"filter":"datum.k=='bar'"}],"mark":{"type":"rule","strokeWidth":2.5,"color":"black"},
    "encoding":{"x":{"field":"xp","type":"quantitative"},"y":{"field":"lo","type":"quantitative"},"y2":{"field":"hi"}}},
   {"transform":[{"filter":"datum.k=='bar'"},{"fold":["lo","hi"],"as":["cap","cv"]}],"mark":{"type":"point","shape":"M-1,0L1,0","size":225,"filled":false,"color":"black","strokeWidth":2.5,"opacity":1},
    "encoding":{"x":{"field":"xp","type":"quantitative"},"y":{"field":"cv","type":"quantitative"}}},
   {"transform":[{"filter":"datum.k=='sig'"}],"mark":{"type":"rule","strokeWidth":2.5,"color":"black"},
    "encoding":{"x":{"field":"x1","type":"quantitative"},"x2":{"field":"x2"},"y":{"field":"y","type":"quantitative"}}},
   {"transform":[{"filter":"datum.k=='sig' && isValid(datum.d1)"}],"mark":{"type":"rule","strokeWidth":2.5,"color":"black"},
    "encoding":{"x":{"field":"x1","type":"quantitative"},"y":{"field":"y","type":"quantitative"},"y2":{"field":"d1"}}},
   {"transform":[{"filter":"datum.k=='sig' && isValid(datum.d2)"}],"mark":{"type":"rule","strokeWidth":2.5,"color":"black"},
    "encoding":{"x":{"field":"x2","type":"quantitative"},"y":{"field":"y","type":"quantitative"},"y2":{"field":"d2"}}},
   {"transform":[{"filter":"datum.k=='sig'"}],"mark":{"type":"text","fontSize":26,"baseline":"alphabetic","dy":3,"color":"black"},
    "encoding":{"x":{"field":"xm","type":"quantitative"},"y":{"field":"y","type":"quantitative"},"text":{"field":"label"}}}
   ]}]}
 ]}
]},
{"spacing":0,"vconcat":[
 {"width":1,"height":1,"transform":[{"filter":"false"}],"mark":{"type":"point","opacity":0},"encoding":{}},
 {"spacing":0,"hconcat":[
  {"width":1,"height":1,"transform":[{"filter":"false"}],"mark":{"type":"point","opacity":0},"encoding":{}},
  {"title":{"text":"B","anchor":"start","frame":"bounds","fontSize":24,"fontWeight":"bold","dx":169,"offset":15},
   "resolve":{"scale":{"shape":"independent"}},
   "vconcat":[{"title":{"text":"TNFα","frame":"group","fontSize":25,"fontWeight":"bold","offset":24},
   "width":294,"height":275,"transform":[{"filter":"datum.p=='B'"}],
   "layer":[
   {"transform":[{"filter":"datum.k=='bar'"}],"mark":{"type":"bar","width":31,"stroke":"black","strokeWidth":4},
    "encoding":{"x":{"field":"xp","type":"quantitative","title":null,"scale":{"domain":[0.417,2.458],"nice":false,"zero":false},"axis":{"values":[1,2],"labelExpr":"datum.value==1?'Young':'Old'","labelFontSize":25,"labelPadding":5,"labelFlush":false}},
    "y":{"field":"mean","type":"quantitative","scale":{"domain":[0,50],"nice":false},"axis":{"title":"pg/ml","titlePadding":7,"values":[0,10,20,30,40,50]}},
    "fill":{"condition":{"test":"datum.a=='Young' || (datum.p=='F' && datum.t=='SDR')","value":"white"},"value":"#d4d4d4"}}},
   {"transform":[{"filter":"datum.k=='pt'"}],"mark":{"type":"point","filled":true,"color":"black","size":110,"opacity":1},
    "encoding":{"x":{"field":"xj","type":"quantitative"},"y":{"field":"v","type":"quantitative"},
    "shape":{"field":"t","type":"nominal","scale":{"domain":["HC","SDR"],"range":["circle","square"]},"legend":{"title":null,"orient":"left","offset":30,"padding":0,"labelFontSize":20,"labelColor":"black","labelExpr":"datum.label=='HC'?'Home Cage':'SDR'","symbolSize":130,"symbolFillColor":"black","symbolStrokeColor":"black","symbolStrokeWidth":0,"rowPadding":14,"labelOffset":20}}}},
   {"transform":[{"filter":"datum.k=='bar'"}],"mark":{"type":"rule","strokeWidth":2.5,"color":"black"},
    "encoding":{"x":{"field":"xp","type":"quantitative"},"y":{"field":"lo","type":"quantitative"},"y2":{"field":"hi"}}},
   {"transform":[{"filter":"datum.k=='bar'"},{"fold":["lo","hi"],"as":["cap","cv"]}],"mark":{"type":"point","shape":"M-1,0L1,0","size":225,"filled":false,"color":"black","strokeWidth":2.5,"opacity":1},
    "encoding":{"x":{"field":"xp","type":"quantitative"},"y":{"field":"cv","type":"quantitative"}}},
   {"transform":[{"filter":"datum.k=='sig'"}],"mark":{"type":"rule","strokeWidth":2.5,"color":"black"},
    "encoding":{"x":{"field":"x1","type":"quantitative"},"x2":{"field":"x2"},"y":{"field":"y","type":"quantitative"}}},
   {"transform":[{"filter":"datum.k=='sig'"}],"mark":{"type":"text","fontSize":26,"baseline":"alphabetic","dy":3,"color":"black"},
    "encoding":{"x":{"field":"xm","type":"quantitative"},"y":{"field":"y","type":"quantitative"},"text":{"field":"label"}}}
   ]}]}
 ]},
 {"width":1,"height":85,"transform":[{"filter":"false"}],"mark":{"type":"point","opacity":0},"encoding":{}},
 {"spacing":0,"hconcat":[
  {"width":111,"height":1,"transform":[{"filter":"false"}],"mark":{"type":"point","opacity":0},"encoding":{}},
  {"title":{"text":"E","anchor":"start","frame":"bounds","fontSize":24,"fontWeight":"bold","dx":-32,"offset":14},
   "vconcat":[{"title":{"text":"IL-1β","frame":"group","fontSize":25,"fontWeight":"bold","offset":24},
   "width":286,"height":274,"transform":[{"filter":"datum.p=='E'"}],
   "layer":[
   {"transform":[{"filter":"datum.k=='bar'"}],"mark":{"type":"bar","width":31,"stroke":"black","strokeWidth":4},
    "encoding":{"x":{"field":"xp","type":"quantitative","title":null,"scale":{"domain":[0.483,2.455],"nice":false,"zero":false},"axis":{"values":[1,2],"labelExpr":"datum.value==1?'Young':'Old'","labelFontSize":25,"labelPadding":5,"labelFlush":false}},
    "y":{"field":"mean","type":"quantitative","scale":{"domain":[0,0.003],"nice":false},"axis":{"title":"IL-1β /β-Actin","titlePadding":18,"values":[0,0.001,0.002,0.003],"format":".3f"}},
    "fill":{"condition":{"test":"datum.a=='Young' || (datum.p=='F' && datum.t=='SDR')","value":"white"},"value":"#d4d4d4"}}},
   {"transform":[{"filter":"datum.k=='pt'"}],"mark":{"type":"point","filled":true,"color":"black","size":110,"opacity":1},
    "encoding":{"x":{"field":"xj","type":"quantitative"},"y":{"field":"v","type":"quantitative"},"shape":{"condition":{"test":"datum.t=='SDR'","value":"square"},"value":"circle"}}},
   {"transform":[{"filter":"datum.k=='bar'"}],"mark":{"type":"rule","strokeWidth":2.5,"color":"black"},
    "encoding":{"x":{"field":"xp","type":"quantitative"},"y":{"field":"lo","type":"quantitative"},"y2":{"field":"hi"}}},
   {"transform":[{"filter":"datum.k=='bar'"},{"fold":["lo","hi"],"as":["cap","cv"]}],"mark":{"type":"point","shape":"M-1,0L1,0","size":225,"filled":false,"color":"black","strokeWidth":2.5,"opacity":1},
    "encoding":{"x":{"field":"xp","type":"quantitative"},"y":{"field":"cv","type":"quantitative"}}},
   {"transform":[{"filter":"datum.k=='sig'"}],"mark":{"type":"rule","strokeWidth":2.5,"color":"black"},
    "encoding":{"x":{"field":"x1","type":"quantitative"},"x2":{"field":"x2"},"y":{"field":"y","type":"quantitative"}}},
   {"transform":[{"filter":"datum.k=='sig' && isValid(datum.d1)"}],"mark":{"type":"rule","strokeWidth":2.5,"color":"black"},
    "encoding":{"x":{"field":"x1","type":"quantitative"},"y":{"field":"y","type":"quantitative"},"y2":{"field":"d1"}}},
   {"transform":[{"filter":"datum.k=='sig' && isValid(datum.d2)"}],"mark":{"type":"rule","strokeWidth":2.5,"color":"black"},
    "encoding":{"x":{"field":"x2","type":"quantitative"},"y":{"field":"y","type":"quantitative"},"y2":{"field":"d2"}}},
   {"transform":[{"filter":"datum.k=='sig'"}],"mark":{"type":"text","fontSize":26,"baseline":"alphabetic","dy":3,"color":"black"},
    "encoding":{"x":{"field":"xm","type":"quantitative"},"y":{"field":"y","type":"quantitative"},"text":{"field":"label"}}}
   ]}]}
 ]},
 {"width":1,"height":67,"transform":[{"filter":"false"}],"mark":{"type":"point","opacity":0},"encoding":{}},
 {"spacing":0,"hconcat":[
  {"width":111,"height":1,"transform":[{"filter":"false"}],"mark":{"type":"point","opacity":0},"encoding":{}},
  {"title":{"text":"H","anchor":"start","frame":"bounds","fontSize":24,"fontWeight":"bold","dx":-42,"offset":19},
   "vconcat":[{"title":{"text":"Corticosterone","frame":"group","fontSize":25,"fontWeight":"bold","offset":29},
   "width":286,"height":275,"transform":[{"filter":"datum.p=='H'"}],
   "layer":[
   {"transform":[{"filter":"datum.k=='bar'"}],"mark":{"type":"bar","width":31,"stroke":"black","strokeWidth":4},
    "encoding":{"x":{"field":"xp","type":"quantitative","title":null,"scale":{"domain":[0.483,2.455],"nice":false,"zero":false},"axis":{"values":[1,2],"labelExpr":"datum.value==1?'Young':'Old'","labelFontSize":25,"labelPadding":5,"labelFlush":false}},
    "y":{"field":"mean","type":"quantitative","scale":{"domain":[0,1.5],"nice":false},"axis":{"title":"pg/ml","titlePadding":17,"values":[0,0.5,1,1.5],"format":".1f"}},
    "fill":{"condition":{"test":"datum.a=='Young' || (datum.p=='F' && datum.t=='SDR')","value":"white"},"value":"#d4d4d4"}}},
   {"transform":[{"filter":"datum.k=='pt'"}],"mark":{"type":"point","filled":true,"color":"black","size":110,"opacity":1},
    "encoding":{"x":{"field":"xj","type":"quantitative"},"y":{"field":"v","type":"quantitative"},"shape":{"condition":{"test":"datum.t=='SDR'","value":"square"},"value":"circle"}}},
   {"transform":[{"filter":"datum.k=='bar'"}],"mark":{"type":"rule","strokeWidth":2.5,"color":"black"},
    "encoding":{"x":{"field":"xp","type":"quantitative"},"y":{"field":"lo","type":"quantitative"},"y2":{"field":"hi"}}},
   {"transform":[{"filter":"datum.k=='bar'"},{"fold":["lo","hi"],"as":["cap","cv"]}],"mark":{"type":"point","shape":"M-1,0L1,0","size":225,"filled":false,"color":"black","strokeWidth":2.5,"opacity":1},
    "encoding":{"x":{"field":"xp","type":"quantitative"},"y":{"field":"cv","type":"quantitative"}}}
   ]}]}
 ]}
]},
{"spacing":0,"vconcat":[
 {"width":1,"height":1,"transform":[{"filter":"false"}],"mark":{"type":"point","opacity":0},"encoding":{}},
 {"spacing":0,"hconcat":[
  {"width":11,"height":1,"transform":[{"filter":"false"}],"mark":{"type":"point","opacity":0},"encoding":{}},
  {"title":{"text":"C","anchor":"start","frame":"bounds","fontSize":24,"fontWeight":"bold","dx":-38,"offset":18},
   "vconcat":[{"title":{"text":"CXCL2","frame":"group","fontSize":25,"fontWeight":"bold","offset":26},
   "width":286,"height":274,"transform":[{"filter":"datum.p=='C'"}],
   "layer":[
   {"transform":[{"filter":"datum.k=='bar'"}],"mark":{"type":"bar","width":31,"stroke":"black","strokeWidth":4},
    "encoding":{"x":{"field":"xp","type":"quantitative","title":null,"scale":{"domain":[0.483,2.455],"nice":false,"zero":false},"axis":{"values":[1,2],"labelExpr":"datum.value==1?'Young':'Old'","labelFontSize":25,"labelPadding":5,"labelFlush":false}},
    "y":{"field":"mean","type":"quantitative","scale":{"domain":[0,80],"nice":false},"axis":{"title":"pg/ml","titlePadding":21,"values":[0,20,40,60,80]}},
    "fill":{"condition":{"test":"datum.a=='Young' || (datum.p=='F' && datum.t=='SDR')","value":"white"},"value":"#d4d4d4"}}},
   {"transform":[{"filter":"datum.k=='pt'"}],"mark":{"type":"point","filled":true,"color":"black","size":110,"opacity":1},
    "encoding":{"x":{"field":"xj","type":"quantitative"},"y":{"field":"v","type":"quantitative"},"shape":{"condition":{"test":"datum.t=='SDR'","value":"square"},"value":"circle"}}},
   {"transform":[{"filter":"datum.k=='bar'"}],"mark":{"type":"rule","strokeWidth":2.5,"color":"black"},
    "encoding":{"x":{"field":"xp","type":"quantitative"},"y":{"field":"lo","type":"quantitative"},"y2":{"field":"hi"}}},
   {"transform":[{"filter":"datum.k=='bar'"},{"fold":["lo","hi"],"as":["cap","cv"]}],"mark":{"type":"point","shape":"M-1,0L1,0","size":225,"filled":false,"color":"black","strokeWidth":2.5,"opacity":1},
    "encoding":{"x":{"field":"xp","type":"quantitative"},"y":{"field":"cv","type":"quantitative"}}},
   {"transform":[{"filter":"datum.k=='sig'"}],"mark":{"type":"rule","strokeWidth":2.5,"color":"black"},
    "encoding":{"x":{"field":"x1","type":"quantitative"},"x2":{"field":"x2"},"y":{"field":"y","type":"quantitative"}}},
   {"transform":[{"filter":"datum.k=='sig'"}],"mark":{"type":"text","fontSize":26,"baseline":"alphabetic","dy":3,"color":"black"},
    "encoding":{"x":{"field":"xm","type":"quantitative"},"y":{"field":"y","type":"quantitative"},"text":{"field":"label"}}}
   ]}]}
 ]},
 {"width":1,"height":83,"transform":[{"filter":"false"}],"mark":{"type":"point","opacity":0},"encoding":{}},
 {"spacing":0,"hconcat":[
  {"width":10,"height":1,"transform":[{"filter":"false"}],"mark":{"type":"point","opacity":0},"encoding":{}},
  {"title":{"text":"F","anchor":"start","frame":"bounds","fontSize":24,"fontWeight":"bold","dx":-9,"offset":41},
   "vconcat":[{"title":{"text":"TNFα","frame":"group","fontSize":25,"fontWeight":"bold","offset":24},
   "width":278,"height":263,"transform":[{"filter":"datum.p=='F'"}],
   "layer":[
   {"transform":[{"filter":"datum.k=='bar'"}],"mark":{"type":"bar","width":31,"stroke":"black","strokeWidth":4},
    "encoding":{"x":{"field":"xp","type":"quantitative","title":null,"scale":{"domain":[0.426,2.398],"nice":false,"zero":false},"axis":{"values":[1,2],"labelExpr":"datum.value==1?'Young':'Old'","labelFontSize":25,"labelPadding":5,"labelFlush":false}},
    "y":{"field":"mean","type":"quantitative","scale":{"domain":[0,0.002],"nice":false},"axis":{"title":"TNFα/β-actin","titlePadding":40,"values":[0,0.0005,0.001,0.0015,0.002],"format":".4f"}},
    "fill":{"condition":{"test":"datum.a=='Young' || (datum.p=='F' && datum.t=='SDR')","value":"white"},"value":"#d4d4d4"}}},
   {"transform":[{"filter":"datum.k=='pt'"}],"mark":{"type":"point","filled":true,"color":"black","size":110,"opacity":1},
    "encoding":{"x":{"field":"xj","type":"quantitative"},"y":{"field":"v","type":"quantitative"},"shape":{"condition":{"test":"datum.t=='SDR'","value":"square"},"value":"circle"}}},
   {"transform":[{"filter":"datum.k=='bar'"}],"mark":{"type":"rule","strokeWidth":2.5,"color":"black"},
    "encoding":{"x":{"field":"xp","type":"quantitative"},"y":{"field":"lo","type":"quantitative"},"y2":{"field":"hi"}}},
   {"transform":[{"filter":"datum.k=='bar'"},{"fold":["lo","hi"],"as":["cap","cv"]}],"mark":{"type":"point","shape":"M-1,0L1,0","size":225,"filled":false,"color":"black","strokeWidth":2.5,"opacity":1},
    "encoding":{"x":{"field":"xp","type":"quantitative"},"y":{"field":"cv","type":"quantitative"}}},
   {"transform":[{"filter":"datum.k=='sig'"}],"mark":{"type":"rule","strokeWidth":2.5,"color":"black"},
    "encoding":{"x":{"field":"x1","type":"quantitative"},"x2":{"field":"x2"},"y":{"field":"y","type":"quantitative"}}},
   {"transform":[{"filter":"datum.k=='sig' && isValid(datum.d1)"}],"mark":{"type":"rule","strokeWidth":2.5,"color":"black"},
    "encoding":{"x":{"field":"x1","type":"quantitative"},"y":{"field":"y","type":"quantitative"},"y2":{"field":"d1"}}},
   {"transform":[{"filter":"datum.k=='sig' && isValid(datum.d2)"}],"mark":{"type":"rule","strokeWidth":2.5,"color":"black"},
    "encoding":{"x":{"field":"x2","type":"quantitative"},"y":{"field":"y","type":"quantitative"},"y2":{"field":"d2"}}},
   {"transform":[{"filter":"datum.k=='sig'"}],"mark":{"type":"text","fontSize":26,"baseline":"alphabetic","dy":3,"color":"black"},
    "encoding":{"x":{"field":"xm","type":"quantitative"},"y":{"field":"y","type":"quantitative"},"text":{"field":"label"}}}
   ]}]}
 ]},
 {"width":1,"height":50,"transform":[{"filter":"false"}],"mark":{"type":"point","opacity":0},"encoding":{}},
 {"spacing":0,"hconcat":[
  {"width":10,"height":1,"transform":[{"filter":"false"}],"mark":{"type":"point","opacity":0},"encoding":{}},
  {"title":{"text":"I","anchor":"start","frame":"bounds","fontSize":24,"fontWeight":"bold","dx":-58,"offset":34},
   "vconcat":[{"title":{"text":"Norepinephrine","frame":"group","fontSize":25,"fontWeight":"bold","offset":21},
   "width":286,"height":273,"transform":[{"filter":"datum.p=='I'"}],
   "layer":[
   {"transform":[{"filter":"datum.k=='bar'"}],"mark":{"type":"bar","width":31,"stroke":"black","strokeWidth":4},
    "encoding":{"x":{"field":"xp","type":"quantitative","title":null,"scale":{"domain":[0.483,2.455],"nice":false,"zero":false},"axis":{"values":[1,2],"labelExpr":"datum.value==1?'Young':'Old'","labelFontSize":25,"labelPadding":5,"labelFlush":false}},
    "y":{"field":"mean","type":"quantitative","scale":{"domain":[0,20],"nice":false},"axis":{"title":"pg/ml","titlePadding":15,"values":[0,5,10,15,20]}},
    "fill":{"condition":{"test":"datum.a=='Young' || (datum.p=='F' && datum.t=='SDR')","value":"white"},"value":"#d4d4d4"}}},
   {"transform":[{"filter":"datum.k=='pt'"}],"mark":{"type":"point","filled":true,"color":"black","size":110,"opacity":1},
    "encoding":{"x":{"field":"xj","type":"quantitative"},"y":{"field":"v","type":"quantitative"},"shape":{"condition":{"test":"datum.t=='SDR'","value":"square"},"value":"circle"}}},
   {"transform":[{"filter":"datum.k=='bar'"}],"mark":{"type":"rule","strokeWidth":2.5,"color":"black"},
    "encoding":{"x":{"field":"xp","type":"quantitative"},"y":{"field":"lo","type":"quantitative"},"y2":{"field":"hi"}}},
   {"transform":[{"filter":"datum.k=='bar'"},{"fold":["lo","hi"],"as":["cap","cv"]}],"mark":{"type":"point","shape":"M-1,0L1,0","size":225,"filled":false,"color":"black","strokeWidth":2.5,"opacity":1},
    "encoding":{"x":{"field":"xp","type":"quantitative"},"y":{"field":"cv","type":"quantitative"}}},
   {"transform":[{"filter":"datum.k=='sig'"}],"mark":{"type":"rule","strokeWidth":2.5,"color":"black"},
    "encoding":{"x":{"field":"x1","type":"quantitative"},"x2":{"field":"x2"},"y":{"field":"y","type":"quantitative"}}},
   {"transform":[{"filter":"datum.k=='sig' && isValid(datum.d1)"}],"mark":{"type":"rule","strokeWidth":2.5,"color":"black"},
    "encoding":{"x":{"field":"x1","type":"quantitative"},"y":{"field":"y","type":"quantitative"},"y2":{"field":"d1"}}},
   {"transform":[{"filter":"datum.k=='sig' && isValid(datum.d2)"}],"mark":{"type":"rule","strokeWidth":2.5,"color":"black"},
    "encoding":{"x":{"field":"x2","type":"quantitative"},"y":{"field":"y","type":"quantitative"},"y2":{"field":"d2"}}},
   {"transform":[{"filter":"datum.k=='sig'"}],"mark":{"type":"text","fontSize":26,"baseline":"alphabetic","dy":3,"color":"black"},
    "encoding":{"x":{"field":"xm","type":"quantitative"},"y":{"field":"y","type":"quantitative"},"text":{"field":"label"}}}
   ]}]}
 ]}
]}
],
"config":{
 "font":"DejaVu Sans",
 "view":{"stroke":null},
 "axis":{"domainColor":"black","domainWidth":3,"tickColor":"black","tickWidth":3,"tickSize":10,"grid":false,"labelColor":"black","titleColor":"black"},
 "axisY":{"labelFontSize":21,"labelFontWeight":"bold","titleFontSize":25,"titleFontWeight":"bold","offset":-11,"titlePadding":8,"labelPadding":4},
 "title":{"color":"black"}
}
}
